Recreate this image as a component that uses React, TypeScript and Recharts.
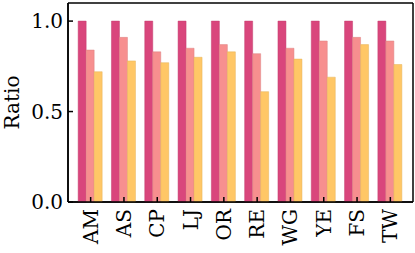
import React from 'react';
import { BarChart, Bar, XAxis, YAxis, CartesianGrid } from 'recharts';

const categories = ['AM', 'AS', 'CP', 'LJ', 'OR', 'RE', 'WG', 'YE', 'FS', 'TW'];
const seriesA = [1, 1, 1, 1, 1, 1, 1, 1, 1, 1];
const seriesB = [0.84, 0.91, 0.83, 0.85, 0.87, 0.82, 0.85, 0.89, 0.91, 0.89];
const seriesC = [0.72, 0.78, 0.77, 0.8, 0.83, 0.61, 0.79, 0.69, 0.87, 0.76];
const yTicks = [0, 0.5, 1.0];

const data = categories.map((name, i) => ({
  name,
  a: seriesA[i],
  b: seriesB[i],
  c: seriesC[i],
}));

const font = '"DejaVu Serif", serif';
const fontSize = 20;

const XTick = (props: any) => {
  const { x, y, payload } = props;
  return (
    <text
      x={x}
      y={y}
      transform={`rotate(-90, ${x}, ${y})`}
      textAnchor="end"
      dominantBaseline="central"
      fontFamily={font}
      fontSize={fontSize}
      fill="#000"
    >
      {payload.value}
    </text>
  );
};

// frame lines: top/bottom and left/right edges of the plot area
const hFrame = ({ offset }: any) => [offset.top, offset.top + offset.height];
const vFrame = ({ offset }: any) => [offset.left, offset.left + offset.width];

const App: React.FC = () => {
  return (
    <div style={{ position: 'fixed', left: 0, top: 0, width: 415, height: 253, background: '#fff' }}>
      <BarChart
        width={415}
        height={253}
        data={data}
        margin={{ top: 3, right: 2, left: 0, bottom: 0 }}
        barCategoryGap="12.5%"
        barGap={0}
      >
        <CartesianGrid
          stroke="#000"
          strokeWidth={1.5}
          horizontalCoordinatesGenerator={hFrame}
          verticalCoordinatesGenerator={vFrame}
        />
        <XAxis
          dataKey="name"
          height={51}
          padding={{ left: 6, right: 6 }}
          tick={<XTick />}
          tickSize={-5}
          tickMargin={12}
          interval={0}
          axisLine={{ stroke: '#000', strokeWidth: 1.5 }}
          tickLine={{ stroke: '#000', strokeWidth: 1.5 }}
        />
        <YAxis
          width={68}
          domain={[0, 1.1]}
          ticks={yTicks}
          tickFormatter={(v: number) => v.toFixed(1)}
          tickSize={-5}
          tickMargin={10}
          tick={{ fontFamily: font, fontSize, fill: '#000' }}
          axisLine={{ stroke: '#000', strokeWidth: 1.5 }}
          tickLine={{ stroke: '#000', strokeWidth: 1.5 }}
          label={{
            value: 'Ratio',
            angle: -90,
            position: 'insideLeft',
            offset: 12,
            style: { fontFamily: font, fontSize, fill: '#000', textAnchor: 'middle' },
          }}
        />
        <Bar dataKey="a" fill="#d9467c" stroke="#c23f6f" strokeWidth={0.5} isAnimationActive={false} />
        <Bar dataKey="b" fill="#f78f8f" stroke="#dd8080" strokeWidth={0.5} isAnimationActive={false} />
        <Bar dataKey="c" fill="#ffc766" stroke="#e5b35b" strokeWidth={0.5} isAnimationActive={false} />
      </BarChart>
    </div>
  );
};

export default App;
